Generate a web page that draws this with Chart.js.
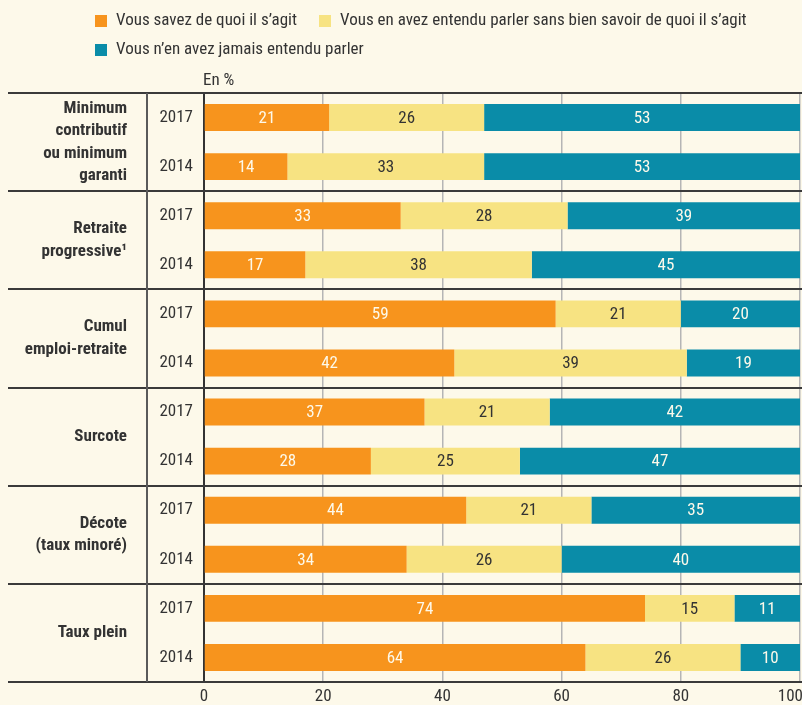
<!DOCTYPE html>
<html>
<head>
<meta charset="utf-8">
<script src="https://cdn.jsdelivr.net/npm/chart.js@4/dist/chart.umd.min.js"></script>
<style>
  html, body { margin: 0; padding: 0; background: #fdf9ea; overflow: hidden; }
  #wrap { width: 802px; height: 705px; }
</style>
</head>
<body>
<div id="wrap"><canvas id="chart" width="802" height="705"></canvas></div>
<script>
// groups (left column) and the two survey years per group
const groups = [
    ['Minimum', 'contributif', 'ou minimum', 'garanti'],
    ['Retraite', 'progressive\u00b9'],
    ['Cumul', 'emploi-retraite'],
    ['Surcote'],
    ['D\u00e9cote', '(taux minor\u00e9)'],
    ['Taux plein']
];
const years = ['2017', '2014', '2017', '2014', '2017', '2014', '2017', '2014', '2017', '2014', '2017', '2014'];

const seriesNames = [
    'Vous savez de quoi il s\u2019agit',
    'Vous en avez entendu parler sans bien savoir de quoi il s\u2019agit',
    'Vous n\u2019en avez jamais entendu parler'
];
const savezValues   = [21, 14, 33, 17, 59, 42, 37, 28, 44, 34, 74, 64];
const entenduValues = [26, 33, 28, 38, 21, 39, 21, 25, 21, 26, 15, 26];
const jamaisValues  = [53, 53, 39, 45, 20, 19, 42, 47, 35, 40, 11, 10];
const xTicks = [0, 20, 40, 60, 80, 100];

const FONT = "'Liberation Sans Narrow', 'Roboto Condensed', 'Liberation Sans', sans-serif";
const INK = '#333333';
const CREAM = '#fdf9ea';

// legend, "En %", group labels and table lines
const tablePlugin = {
    id: 'tablePlugin',
    beforeDraw(chart) {
        // push the "100" tick label inside the canvas
        const xs = chart.scales.x;
        const items = xs.getLabelItems();
        const last = items[items.length - 1];
        if (last) {
            last.options.textAlign = 'right';
            last.options.translation = [xs.right + 3, last.options.translation[1]];
        }
    },
    afterDraw(chart) {
        const ctx = chart.ctx;
        const area = chart.chartArea;
        const ys = chart.scales.y;
        ctx.save();

        // legend
        const legendPos = [[95, 21], [319, 21], [95, 50]];
        ctx.font = '17px ' + FONT;
        ctx.textBaseline = 'middle';
        ctx.textAlign = 'left';
        chart.data.datasets.forEach((ds, i) => {
            const [lx, ly] = legendPos[i];
            ctx.fillStyle = ds.backgroundColor;
            ctx.fillRect(lx, ly - 6, 12, 12);
            ctx.fillStyle = INK;
            ctx.fillText(ds.label, lx + 21, ly);
        });

        // unit
        ctx.fillText('En %', area.left - 1, 81);

        // horizontal separators
        const lineYs = [area.top];
        for (let g = 1; g < groups.length; g++) {
            lineYs.push((ys.getPixelForValue(2 * g - 1) + ys.getPixelForValue(2 * g)) / 2);
        }
        lineYs.push(area.bottom);
        ctx.strokeStyle = '#3a3a3a';
        ctx.lineWidth = 2;
        lineYs.forEach(y => {
            ctx.beginPath();
            ctx.moveTo(8, Math.round(y));
            ctx.lineTo(chart.width, Math.round(y));
            ctx.stroke();
        });

        // vertical separator between groups and years
        ctx.strokeStyle = '#5a5a5a';
        ctx.beginPath();
        ctx.moveTo(147, area.top);
        ctx.lineTo(147, area.bottom);
        ctx.stroke();

        // group labels
        ctx.font = 'bold 17px ' + FONT;
        ctx.fillStyle = INK;
        ctx.textAlign = 'right';
        const lineH = 22.5;
        groups.forEach((lines, g) => {
            const cy = (lineYs[g] + lineYs[g + 1]) / 2;
            const startY = cy - (lines.length - 1) * lineH / 2;
            lines.forEach((t, k) => ctx.fillText(t, 127, startY + k * lineH));
        });
        ctx.restore();
    }
};

// value labels inside the bars
const valueLabels = {
    id: 'valueLabels',
    afterDatasetsDraw(chart) {
        const ctx = chart.ctx;
        ctx.save();
        ctx.font = '17px ' + FONT;
        ctx.textAlign = 'center';
        ctx.textBaseline = 'middle';
        chart.data.datasets.forEach((ds, i) => {
            const meta = chart.getDatasetMeta(i);
            meta.data.forEach((bar, j) => {
                const p = bar.getCenterPoint();
                ctx.fillStyle = ds.labelColor;
                ctx.fillText(ds.data[j], p.x, p.y + 1);
            });
        });
        ctx.restore();
    }
};

new Chart(document.getElementById('chart'), {
    type: 'bar',
    data: {
        labels: years,
        datasets: [
            { label: seriesNames[0], data: savezValues, backgroundColor: '#f7941d', labelColor: CREAM },
            { label: seriesNames[1], data: entenduValues, backgroundColor: '#f7e382', labelColor: INK },
            { label: seriesNames[2], data: jamaisValues, backgroundColor: '#0a8ca8', labelColor: CREAM }
        ]
    },
    options: {
        indexAxis: 'y',
        responsive: false,
        animation: false,
        layout: { padding: { top: 93, right: 2, left: 0, bottom: 0 } },
        datasets: { bar: { barPercentage: 0.55, categoryPercentage: 1, borderWidth: 0 } },
        plugins: {
            legend: { display: false },
            tooltip: { enabled: false }
        },
        scales: {
            x: {
                stacked: true,
                min: 0,
                max: 100,
                afterBuildTicks: s => { s.ticks = xTicks.map(v => ({ value: v })); },
                afterFit: s => { s.height = 23; s.paddingRight = 0; s.paddingLeft = 0; },
                grid: { color: '#b5b5b5', lineWidth: 1.5, drawTicks: false },
                border: { display: false },
                ticks: { color: INK, padding: 5, font: { family: FONT, size: 17 } }
            },
            y: {
                stacked: true,
                afterFit: s => { s.width = 204; },
                grid: { display: false, drawTicks: false },
                border: { display: true, color: '#333333', width: 2 },
                ticks: { color: INK, padding: 11, font: { family: FONT, size: 17 } }
            }
        }
    },
    plugins: [tablePlugin, valueLabels]
});
</script>
</body>
</html>
